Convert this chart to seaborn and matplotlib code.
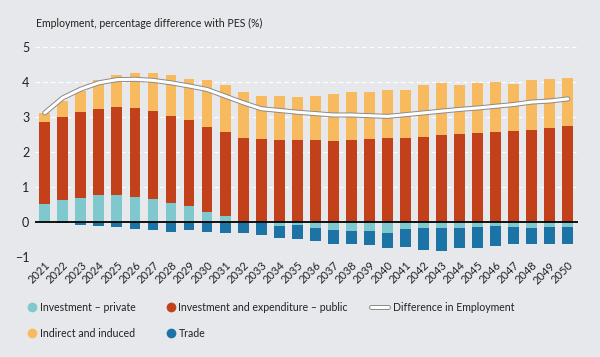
import numpy as np
import pandas as pd
import matplotlib
matplotlib.use("Agg")
import matplotlib.pyplot as plt
import matplotlib.patheffects as pe
from matplotlib.lines import Line2D
import seaborn as sns

years = [str(y) for y in range(2021, 2051)]
private = [0.52, 0.63, 0.70, 0.76, 0.78, 0.73, 0.67, 0.55, 0.45, 0.29, 0.18, -0.02, -0.04, -0.10, -0.08,
           -0.16, -0.23, -0.25, -0.25, -0.30, -0.21, -0.16, -0.16, -0.16, -0.13, -0.11, -0.14, -0.16, -0.13, -0.13]
public = [2.33, 2.38, 2.44, 2.48, 2.51, 2.53, 2.51, 2.48, 2.48, 2.43, 2.40, 2.39, 2.37, 2.35, 2.35,
          2.35, 2.33, 2.35, 2.37, 2.39, 2.41, 2.44, 2.49, 2.52, 2.54, 2.58, 2.60, 2.64, 2.70, 2.74]
indirect = [0.27, 0.46, 0.60, 0.82, 0.92, 1.01, 1.07, 1.16, 1.15, 1.33, 1.35, 1.32, 1.23, 1.25, 1.22,
            1.25, 1.33, 1.36, 1.36, 1.38, 1.36, 1.47, 1.48, 1.39, 1.44, 1.42, 1.35, 1.41, 1.40, 1.39]
trade = [-0.01, -0.02, -0.08, -0.10, -0.13, -0.21, -0.23, -0.27, -0.23, -0.27, -0.31, -0.29, -0.33, -0.35, -0.41,
         -0.38, -0.39, -0.39, -0.42, -0.44, -0.49, -0.63, -0.66, -0.57, -0.62, -0.58, -0.48, -0.48, -0.49, -0.49]
difference = [3.12, 3.55, 3.80, 3.98, 4.07, 4.08, 4.05, 3.98, 3.89, 3.79, 3.60, 3.41, 3.24, 3.19, 3.14,
              3.10, 3.06, 3.06, 3.04, 3.02, 3.07, 3.12, 3.17, 3.22, 3.26, 3.31, 3.36, 3.43, 3.46, 3.52]

labels = ["Investment \u2013 private", "Investment and expenditure \u2013 public",
          "Indirect and induced", "Trade", "Difference in Employment"]

c_priv = "#7EC8CE"
c_pub = "#C2401A"
c_ind = "#F8BA5E"
c_trade = "#1C73A5"
bg = "#E7E8EC"

df = pd.DataFrame({"year": years, "private": private, "public": public,
                   "indirect": indirect, "trade": trade, "difference": difference})
pos_priv = df["private"].clip(lower=0)
neg_priv = df["private"].clip(upper=0)
df["red_top"] = pos_priv + df["public"]
df["yel_top"] = df["red_top"] + df["indirect"]
df["blue_bot"] = neg_priv + df["trade"]

sns.set_theme(style="white")
plt.rcParams["font.family"] = ["Lato", "DejaVu Sans"]

fig = plt.figure(figsize=(6.0, 3.57), dpi=100, facecolor=bg)
ax = fig.add_axes([0.058, 0.28, 0.905, 0.588])
ax.set_facecolor(bg)

w = 0.6
sns.barplot(data=df, x="year", y="yel_top", color=c_ind, width=w, saturation=1, ax=ax, linewidth=0, order=years)
sns.barplot(data=df, x="year", y="red_top", color=c_pub, width=w, saturation=1, ax=ax, linewidth=0, order=years)
sns.barplot(data=df, x="year", y="blue_bot", color=c_trade, width=w, saturation=1, ax=ax, linewidth=0, order=years)
sns.barplot(data=df, x="year", y="private", color=c_priv, width=w, saturation=1, ax=ax, linewidth=0, order=years)

line_fx = [pe.Stroke(linewidth=3.6, foreground="#8A8A8A"), pe.Normal()]
sns.lineplot(data=df, x="year", y="difference", ax=ax, color="white", linewidth=2.2, sort=False,
             path_effects=line_fx, zorder=5)

ax.axhline(0, color="black", linewidth=1.3, zorder=4)
ax.set_ylim(-1, 5)
ax.set_xlim(-0.55, len(years) - 0.45)
ax.set_yticks(range(-1, 6))
ax.yaxis.grid(True, color="white", linestyle=(0, (4, 3)), linewidth=0.8)
ax.set_axisbelow(True)
for s in ax.spines.values():
    s.set_visible(False)
ax.set_xlabel("")
ax.set_ylabel("")
ax.tick_params(axis="y", length=0, pad=4, labelsize=9, labelcolor="#222222")
ax.tick_params(axis="x", length=0, pad=2, labelsize=8, labelcolor="#222222")
plt.setp(ax.get_xticklabels(), rotation=45, ha="right", rotation_mode="anchor")

fig.text(0.06, 0.935, "Employment, percentage difference with PES (%)", fontsize=7.6, color="#222222",
         ha="left", va="center")

mk = dict(marker="o", linestyle="", markersize=7, markeredgecolor="none")
handles = [
    Line2D([], [], markerfacecolor=c_priv, **mk),
    Line2D([], [], markerfacecolor=c_ind, **mk),
    Line2D([], [], markerfacecolor=c_pub, **mk),
    Line2D([], [], markerfacecolor=c_trade, **mk),
]
leg_labels = [labels[0], labels[2], labels[1], labels[3]]
leg = fig.legend(handles, leg_labels, ncol=2, loc="upper left", bbox_to_anchor=(0.048, 0.155),
                 frameon=False, fontsize=7.6, handlelength=0.7, handletextpad=0.35,
                 columnspacing=3.0, labelspacing=1.45, borderaxespad=0, borderpad=0)
leg2 = fig.legend([Line2D([], [], color="white", linewidth=2.2, path_effects=line_fx)], [labels[4]],
                  loc="upper left", bbox_to_anchor=(0.619, 0.155), frameon=False, fontsize=7.6,
                  handlelength=1.6, handletextpad=0.45, borderaxespad=0, borderpad=0)
for lg in (leg, leg2):
    for t in lg.get_texts():
        t.set_color("#222222")

fig.savefig("out.png", dpi=100, facecolor=bg)
